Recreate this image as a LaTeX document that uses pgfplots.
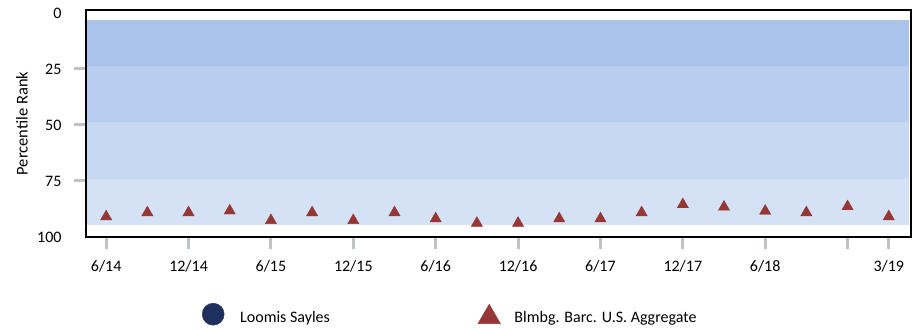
\documentclass[border=0pt]{standalone}
\usepackage{fontspec}
\setmainfont{Carlito}
\usepackage{pgfplots}
\pgfplotsset{compat=1.18}
\definecolor{bandA}{HTML}{A9C3EB}
\definecolor{bandB}{HTML}{B8CDEF}
\definecolor{bandC}{HTML}{C6D8F2}
\definecolor{bandD}{HTML}{D5E2F6}
\definecolor{tri}{HTML}{953735}
\definecolor{navy}{HTML}{1F2F5E}
\definecolor{tickgray}{HTML}{BFC3C8}
\begin{document}
\fontsize{16bp}{19bp}\selectfont
\begin{tikzpicture}
\useasboundingbox (-86bp,-94bp) rectangle (831bp,237bp);
\begin{axis}[
  at={(0bp,0bp)}, anchor=south west,
  scale only axis, width=825bp, height=227bp,
  xmin=-0.49, xmax=19.54, ymin=-1.3, ymax=100, y dir=reverse,
  axis on top,
  axis line style={black, line width=1.5bp},
  tick align=outside, major tick length=12bp,
  major tick style={color=tickgray, line width=3bp},
  xtick pos=bottom, ytick pos=left,
  xtick={0,2,4,6,8,10,12,14,16,18,19},
  xticklabels={6/14,12/14,6/15,12/15,6/16,12/16,6/17,12/17,6/18,,3/19},
  ytick={25,50,75},
  extra y ticks={0,100},
  extra y tick style={major tick style={draw=none}},
  /pgf/number format/assume math mode=true,
  yticklabel style={xshift=-7bp},
  xticklabel style={yshift=-6bp},
  ylabel={\fontsize{16.5bp}{19bp}\selectfont Percentile Rank},
  ylabel style={at={(axis description cs:-0.0776,0.5)}, anchor=center},
  legend columns=2,
  legend image code/.code={\draw[#1] plot coordinates {(0bp,0bp)};},
  legend style={draw=none, fill=none, inner sep=0pt,
    at={(axis description cs:0.1406,-0.2907)}, anchor=north west,
    nodes={inner sep=0pt, yshift=-4bp},
    /tikz/column 1/.style={column sep=16bp},
    /tikz/column 2/.style={column sep=148bp},
    /tikz/column 3/.style={column sep=14bp}},
  legend cell align=left,
]
\addplot[draw=none, fill=bandA, forget plot] coordinates {(-0.47,3) (19.5,3) (19.5,23.5) (-0.47,23.5)} -- cycle;
\addplot[draw=none, fill=bandB, forget plot] coordinates {(-0.47,23.5) (19.5,23.5) (19.5,48.5) (-0.47,48.5)} -- cycle;
\addplot[draw=none, fill=bandC, forget plot] coordinates {(-0.47,48.5) (19.5,48.5) (19.5,74) (-0.47,74)} -- cycle;
\addplot[draw=none, fill=bandD, forget plot] coordinates {(-0.47,74) (19.5,74) (19.5,94.7) (-0.47,94.7)} -- cycle;
\addplot[only marks, mark=triangle*, mark size=6.5bp, color=tri, forget plot] coordinates {
(0,90.9) (1,89.1) (2,89.1) (3,88.3) (4,92.6) (5,89.1) (6,92.6) (7,89.1) (8,91.8) (9,93.8)
(10,93.8) (11,91.8) (12,91.8) (13,89.1) (14,85.5) (15,86.6) (16,88.4) (17,89.1) (18,86.4) (19,90.9)};
\addlegendimage{only marks, mark=*, mark size=11bp, color=navy}
\addlegendentry{Loomis Sayles}
\addlegendimage{only marks, mark=triangle*, mark size=13bp, color=tri, yshift=-3bp}
\addlegendentry{Blmbg. Barc. U.S. Aggregate}
\end{axis}
\end{tikzpicture}
\end{document}
